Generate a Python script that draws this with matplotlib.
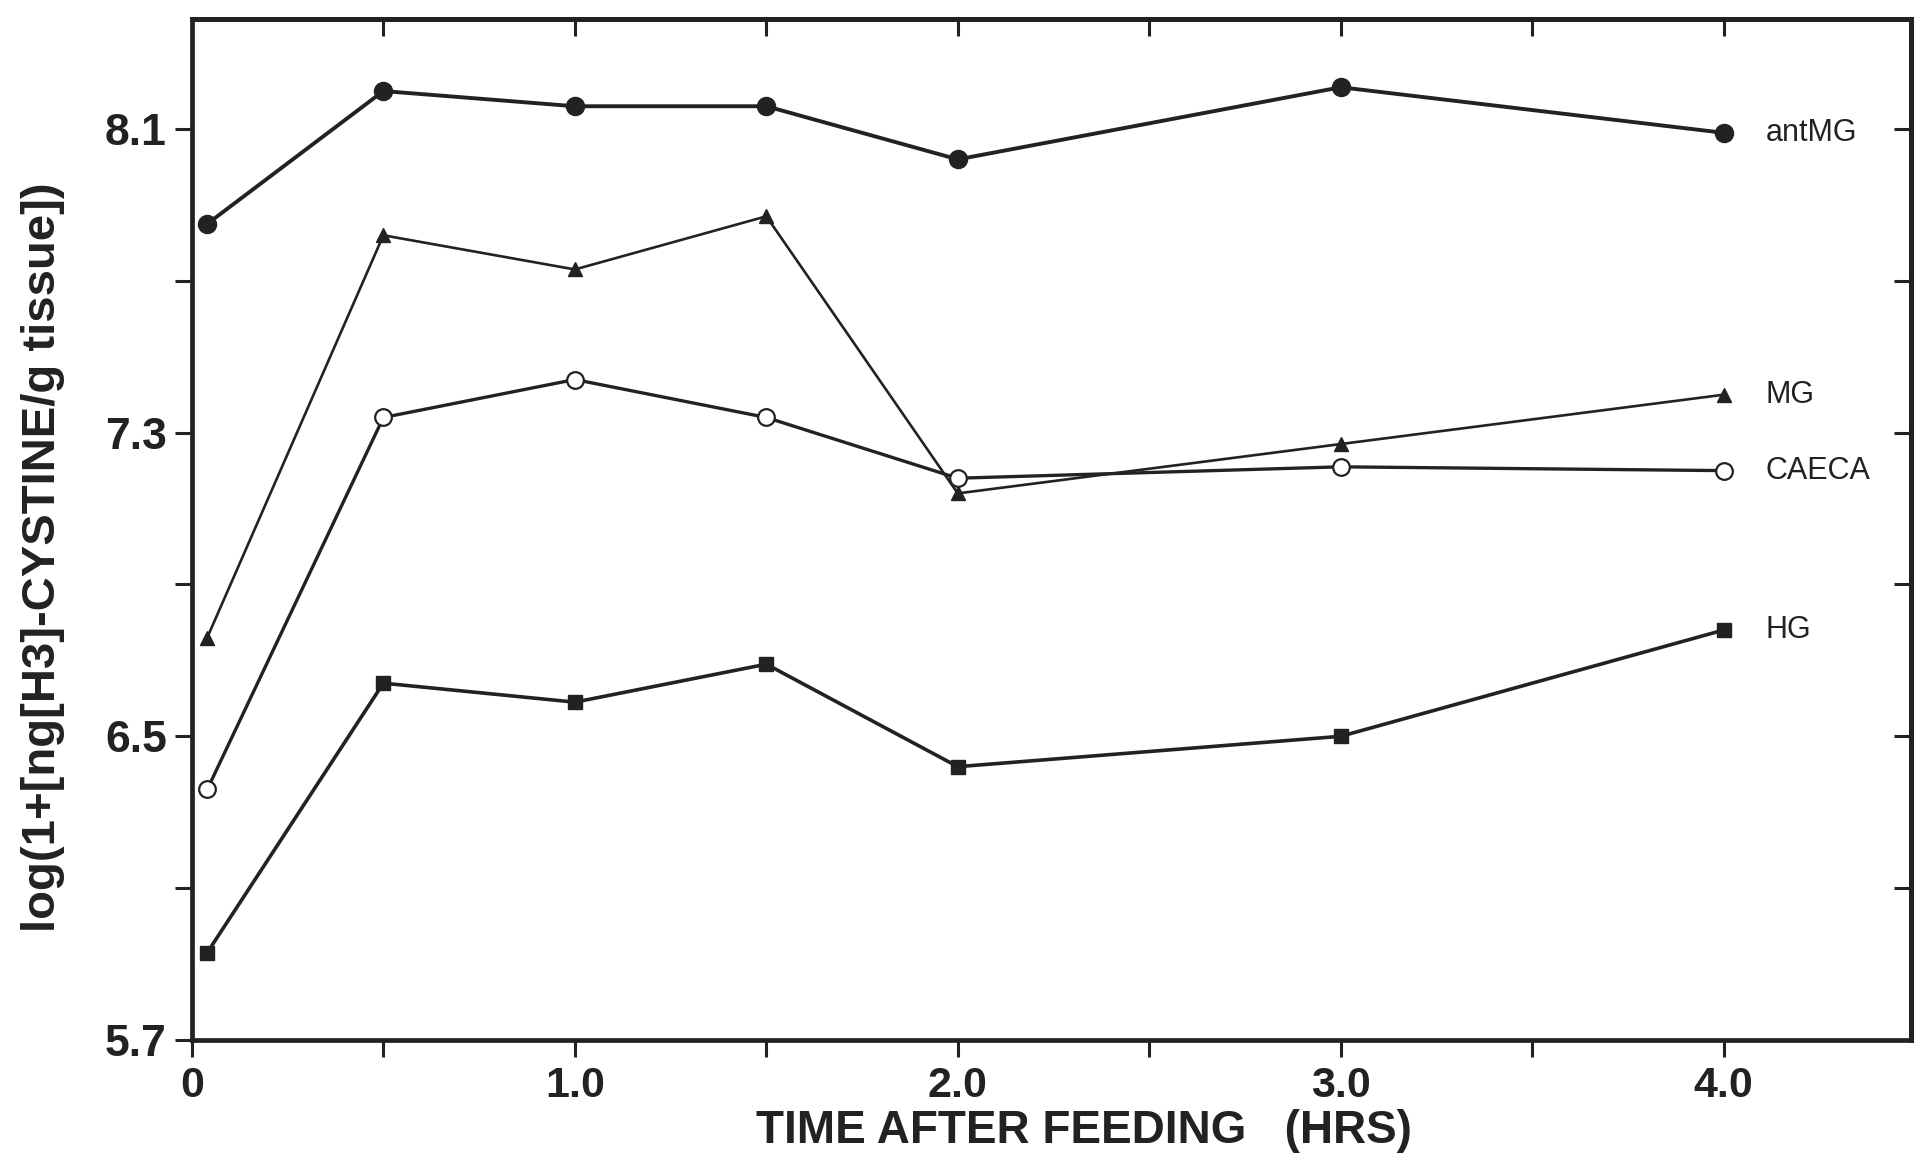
import numpy as np
import matplotlib
matplotlib.use("Agg")
import matplotlib.pyplot as plt

# data
hours = [0.04, 0.5, 1.0, 1.5, 2.0, 3.0, 4.0]
antmg = [7.85, 8.20, 8.16, 8.16, 8.02, 8.21, 8.09]
mg = [6.76, 7.82, 7.73, 7.87, 7.14, 7.27, 7.40]
caeca = [6.36, 7.34, 7.44, 7.34, 7.18, 7.21, 7.20]
hg = [5.93, 6.64, 6.59, 6.69, 6.42, 6.50, 6.78]

series_names = ["antMG", "MG", "CAECA", "HG"]
label_y = [8.09, 7.40, 7.20, 6.78]

yticks = [5.7, 6.1, 6.5, 6.9, 7.3, 7.7, 8.1]
ytick_labels = ["5.7", "", "6.5", "", "7.3", "", "8.1"]
xticks = [0, 0.5, 1.0, 1.5, 2.0, 2.5, 3.0, 3.5, 4.0]
xtick_labels = ["0", "", "1.0", "", "2.0", "", "3.0", "", "4.0"]

bold = "Liberation Sans"
ink = "#222222"

fig = plt.figure(figsize=(19.19, 11.55), dpi=100)
ax = fig.add_axes([0.100, 0.0996, 0.896, 0.884])

ax.plot(hours, antmg, color=ink, lw=2.8, marker="o", ms=13,
        mfc=ink, mec=ink)
ax.plot(hours, mg, color=ink, lw=1.9, marker="^", ms=10,
        mfc=ink, mec=ink)
ax.plot(hours, caeca, color=ink, lw=2.4, marker="o", ms=12,
        mfc="white", mec=ink, mew=1.6)
ax.plot(hours, hg, color=ink, lw=2.6, marker="s", ms=10,
        mfc=ink, mec=ink)

for name, yv in zip(series_names, label_y):
    ax.text(4.11, yv, name, family=["Liberation Sans Narrow", bold],
            fontstretch="condensed", fontsize=22, color=ink,
            va="center", ha="left")

ax.set_xlim(0, 4.49)
ax.set_ylim(5.7, 8.39)

ax.set_xticks(xticks)
ax.set_xticklabels(xtick_labels, family=bold, fontweight="bold", fontsize=31)
ax.set_yticks(yticks)
ax.set_yticklabels(ytick_labels, family=bold, fontweight="bold", fontsize=32)
ax.tick_params(axis="both", direction="out", length=12, width=2.2,
               color=ink, labelcolor=ink)
ax.tick_params(axis="x", pad=7)
ax.tick_params(axis="y", pad=6)

for sp in ax.spines.values():
    sp.set_linewidth(3.4)
    sp.set_color(ink)

top = ax.secondary_xaxis("top")
top.set_xticks(xticks[1:])
top.tick_params(direction="in", length=12, width=2.2, labeltop=False,
                color=ink)
top.spines["top"].set_linewidth(3.4)
right = ax.secondary_yaxis("right")
right.set_yticks(yticks[1:])
right.tick_params(direction="in", length=12, width=2.2, labelright=False,
                  color=ink)
right.spines["right"].set_linewidth(3.4)

ax.set_xlabel("TIME AFTER FEEDING   (HRS)", family=bold, fontweight="bold",
              fontsize=33, color=ink)
ax.xaxis.set_label_coords(0.519, -0.068)
ax.set_ylabel("log(1+[ng[H3]-CYSTINE/g tissue])", family=bold,
              fontweight="bold", fontsize=34, color=ink)
ax.yaxis.set_label_coords(-0.074, 0.473)

fig.savefig("out.png", dpi=100)
